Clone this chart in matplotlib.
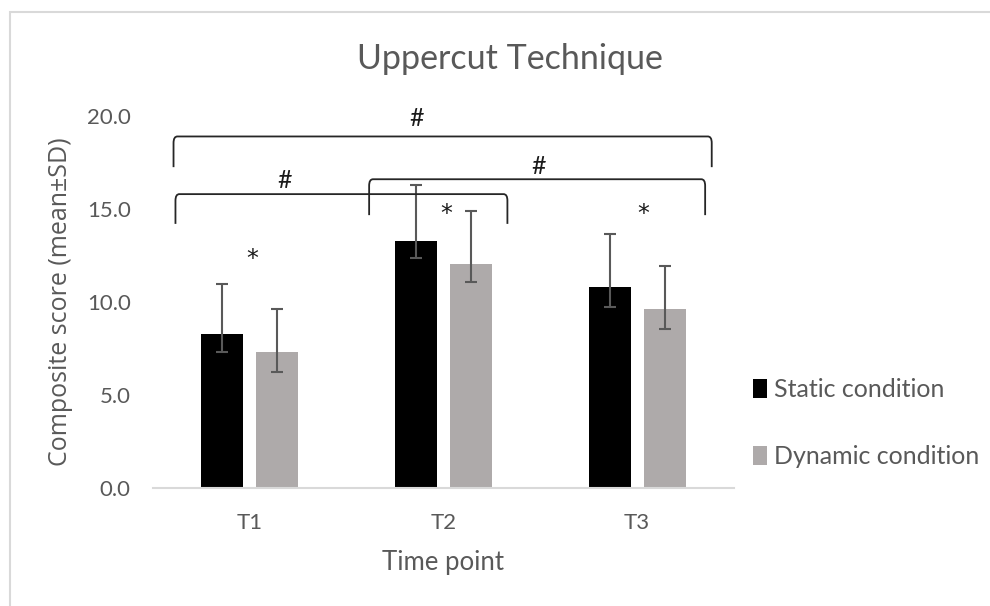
import matplotlib
matplotlib.use("Agg")
import matplotlib.pyplot as plt
import numpy as np
from matplotlib.path import Path
from matplotlib.patches import PathPatch, Rectangle

categories = ["T1", "T2", "T3"]
static_mean = [8.3, 13.3, 10.8]
static_err_up = [2.65, 3.0, 2.85]
static_err_down = [1.0, 0.95, 1.05]
dynamic_mean = [7.3, 12.05, 9.6]
dynamic_err_up = [2.3, 2.85, 2.35]
dynamic_err_down = [1.05, 0.95, 1.05]
series_names = ["Static condition", "Dynamic condition"]
yticks = [0, 5, 10, 15, 20]
# brackets: (x_start, x_end, y_top, y_leg_bottom, label_x, label_y)
brackets = [
    (-0.394, 2.385, 18.9, 17.25, 0.86, 19.85),
    (-0.384, 1.33, 15.8, 14.2, 0.18, 16.55),
    (0.616, 2.351, 16.6, 14.67, 1.49, 17.3),
]
stars_x = [0.014, 1.015, 2.03]
stars_y = [12.3, 14.75, 14.75]

FONT = "Lato"
TXT = "#595959"

fig = plt.figure(figsize=(9.9, 6.06), dpi=100)
fig.patches.append(Rectangle((10/990, -0.2), 1.2, 0.2 + (606-12)/606, transform=fig.transFigure,
                             fill=False, edgecolor="#d9d9d9", linewidth=1.5))
ax = fig.add_axes([153/990, (606-488)/606, 581/990, (488-116)/606])

x = np.arange(len(categories))
w = 0.217
off = 0.142
ax.bar(x - off, static_mean, w, color="black", label=series_names[0], zorder=2)
ax.bar(x + off, dynamic_mean, w, color="#aeaaaa", label=series_names[1], zorder=2)
ecol = "#595959"
ax.errorbar(x - off, static_mean, yerr=[static_err_down, static_err_up], fmt="none",
            ecolor=ecol, elinewidth=1.5, capsize=4.5, capthick=1.5, zorder=3)
ax.errorbar(x + off, dynamic_mean, yerr=[dynamic_err_down, dynamic_err_up], fmt="none",
            ecolor=ecol, elinewidth=1.5, capsize=4.5, capthick=1.5, zorder=3)

ax.set_xlim(-0.5, 2.5)
ax.set_ylim(0, 20)
ax.set_yticks(yticks)
ax.set_yticklabels([f"{v:.1f}" for v in yticks], fontfamily=FONT, fontsize=16, color=TXT)
ax.set_xticks(x)
ax.set_xticklabels(categories, fontfamily=FONT, fontsize=16, color=TXT)
ax.tick_params(axis="both", length=0)
ax.tick_params(axis="y", pad=16)
ax.tick_params(axis="x", pad=18)
for s in ["top", "right", "left"]:
    ax.spines[s].set_visible(False)
ax.spines["bottom"].set_color("#d9d9d9")
ax.spines["bottom"].set_linewidth(1.5)

ax.set_xlabel("Time point", fontfamily=FONT, fontsize=18.5, color=TXT, labelpad=12)
ax.set_ylabel("Composite score (mean±SD)", fontfamily="Open Sans", fontsize=18, color=TXT, labelpad=10)
ax.yaxis.label.set_position((0, (488 - 302) / 372))
fig.text(510/990, 1 - 59/606, "Uppercut Technique", ha="center", va="center",
         fontfamily=FONT, fontsize=24.5, color=TXT)

# brackets with rounded corners
r_x = 0.02
r_y = 0.35
for (x0, x1, yt, yb, lx, ly) in brackets:
    verts = [(x0, yb), (x0, yt - r_y), (x0, yt), (x0 + r_x, yt),
             (x1 - r_x, yt), (x1, yt), (x1, yt - r_y), (x1, yb)]
    codes = [Path.MOVETO, Path.LINETO, Path.CURVE3, Path.CURVE3,
             Path.LINETO, Path.CURVE3, Path.CURVE3, Path.LINETO]
    ax.add_patch(PathPatch(Path(verts, codes), fill=False, edgecolor="#262626",
                           linewidth=1.3, clip_on=False, zorder=4))
    ax.text(lx, ly, "#", ha="center", va="center", fontfamily=FONT, fontsize=18,
            color="#1a1a1a", clip_on=False)

for sx, sy in zip(stars_x, stars_y):
    ax.text(sx, sy, "*", ha="center", va="center", fontfamily="DejaVu Sans", fontsize=17,
            color="#1a1a1a")

leg = fig.legend(loc="upper left", bbox_to_anchor=(743/990, 1 - 368/606), frameon=False,
                 prop={"family": FONT, "size": 18}, handlelength=0.55, handleheight=0.8,
                 handletextpad=0.3, labelspacing=1.75, borderaxespad=0)
for t in leg.get_texts():
    t.set_color(TXT)

fig.savefig("out.png", dpi=100)
